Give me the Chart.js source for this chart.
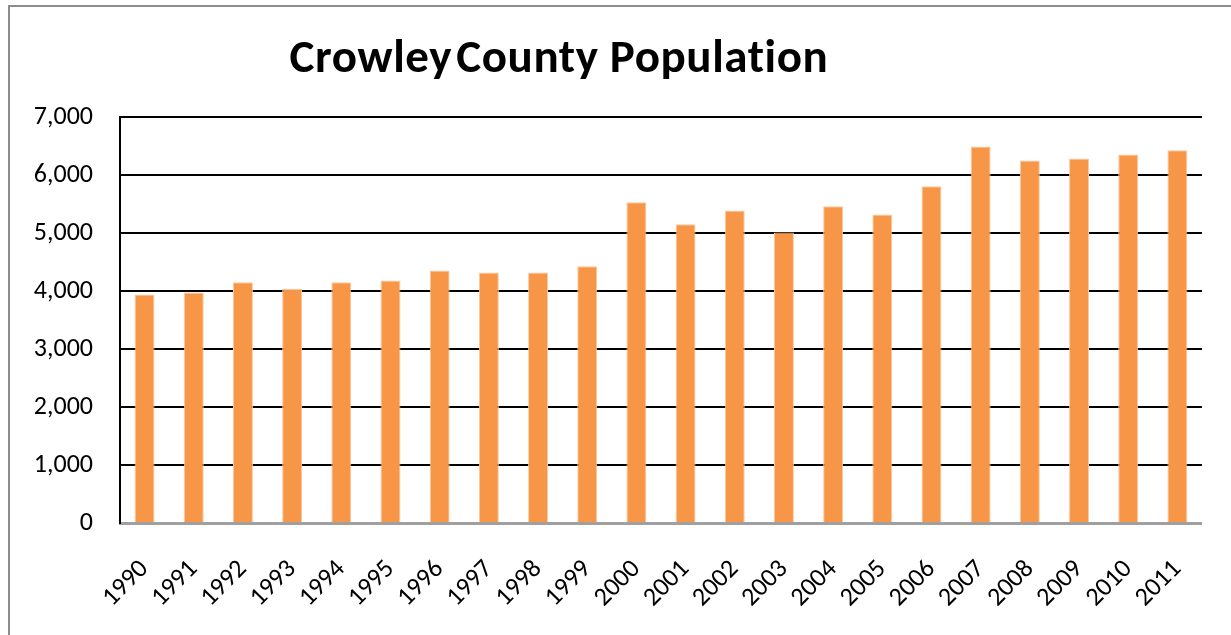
<!DOCTYPE html>
<html>
<head>
<meta charset="utf-8">
<title>Crowley County Population</title>
<script src="https://cdn.jsdelivr.net/npm/chart.js@4/dist/chart.umd.min.js"></script>
<style>
  html, body { margin: 0; padding: 0; background: #fff; }
  #wrap { position: relative; width: 1231px; height: 635px; overflow: hidden; }
  #frame { position: absolute; left: 8px; top: 5px; width: 1240px; height: 650px;
           border: 2px solid #8c8c8c; box-sizing: border-box; }
  #title { position: absolute; left: 0; width: 1118px; top: 26px; text-align: center;
           font: bold 47px Carlito, "Open Sans", sans-serif; color: #000;
           letter-spacing: 0.6px; line-height: 60px; white-space: nowrap; }
  #title .w1 { margin-right: -7px; }
  #numberPop { position: absolute; left: 0; top: 0; }
</style>
</head>
<body>
<div id="wrap">
  <div id="frame"></div>
  <canvas id="numberPop" width="1231" height="635"></canvas>
  <div id="title"><span class="w1">Crowley</span> County Population</div>
</div>
<script>
(function () {
    "use strict";

    const years = ['1990', '1991', '1992', '1993', '1994', '1995', '1996', '1997', '1998', '1999', '2000',
                   '2001', '2002', '2003', '2004', '2005', '2006', '2007', '2008', '2009', '2010', '2011'];
    const population = [3940, 3975, 4150, 4040, 4150, 4180, 4355, 4320, 4320, 4425, 5530,
                        5150, 5390, 5010, 5460, 5320, 5805, 6490, 6250, 6285, 6355, 6425];
    const yTicks = [0, 1000, 2000, 3000, 4000, 5000, 6000, 7000];

    const tickFont = { family: 'Carlito, "Open Sans", sans-serif', size: 26 };

    const ctx = document.getElementById('numberPop');
    new Chart(ctx, {
        type: 'bar',
        data: {
            labels: years,
            datasets: [{
                label: 'Population',
                data: population,
                backgroundColor: '#f79646',
                borderColor: '#fbc8a0',
                borderWidth: { top: 1, left: 1, right: 1, bottom: 0 },
                categoryPercentage: 1,
                barPercentage: 0.405
            }]
        },
        options: {
            responsive: false,
            animation: false,
            layout: { padding: { top: 117, right: 24, left: 0, bottom: 0 } },
            plugins: {
                legend: { display: false },
                title: { display: false },
                tooltip: { enabled: false }
            },
            scales: {
                x: {
                    grid: { display: false, drawTicks: false },
                    border: { color: '#a0a0a0', width: 3 },
                    ticks: {
                        color: '#000',
                        font: tickFont,
                        minRotation: 45,
                        maxRotation: 45,
                        padding: 31
                    },
                    afterFit: function (scale) { scale.height = 112; }
                },
                y: {
                    min: 0,
                    max: 7000,
                    afterBuildTicks: function (scale) {
                        scale.ticks = yTicks.map(function (v) { return { value: v }; });
                    },
                    grid: {
                        drawTicks: false,
                        lineWidth: 2,
                        color: function (c) { return c.tick && c.tick.value === 0 ? 'rgba(0,0,0,0)' : '#000'; }
                    },
                    border: { color: '#000', width: 2 },
                    ticks: {
                        color: '#000',
                        font: tickFont,
                        padding: 27,
                        callback: function (v) { return Number(v).toLocaleString('en-US'); }
                    },
                    afterFit: function (scale) { scale.width = 120; }
                }
            }
        }
    });
}());
</script>
</body>
</html>
